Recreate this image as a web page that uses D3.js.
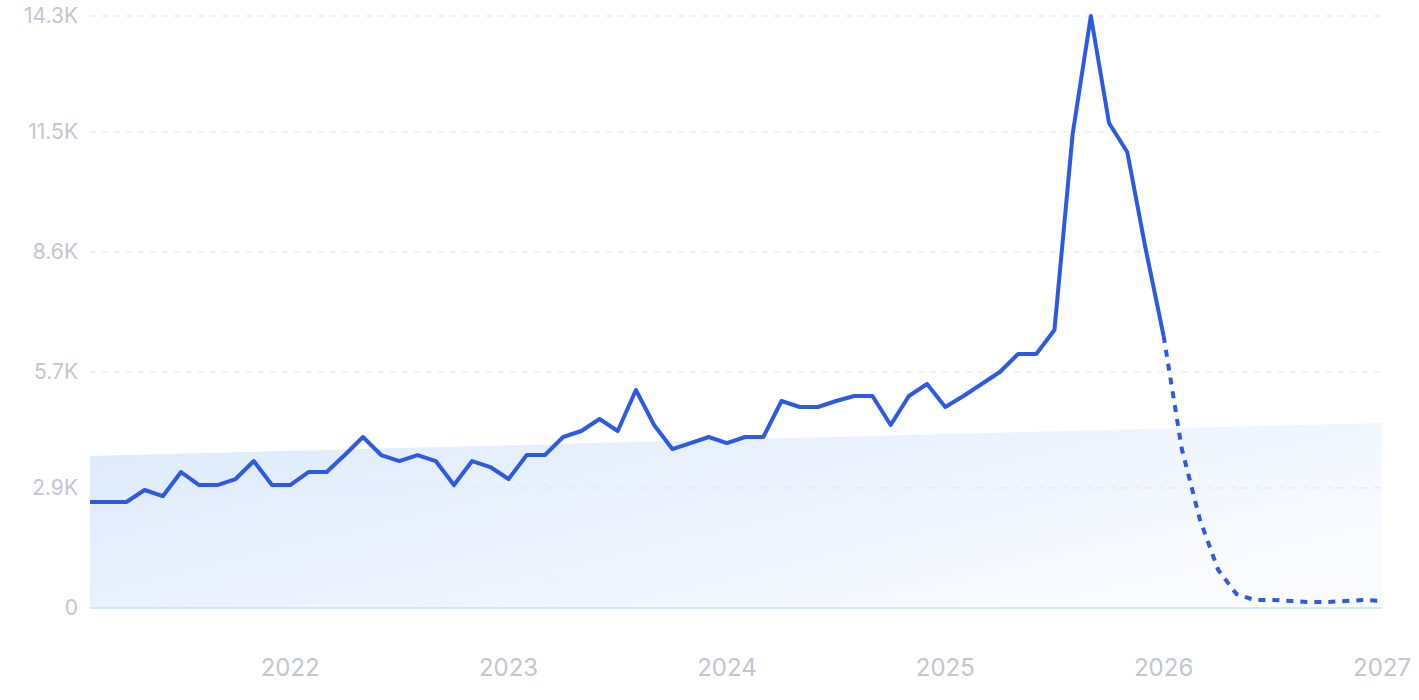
<!DOCTYPE html>
<html><head><meta charset="utf-8">
<script src="https://cdn.jsdelivr.net/npm/d3@7"></script>
<style>body{margin:0;background:#fff}text{font-family:Inter,"Noto Sans",sans-serif}</style>
</head><body>
<svg id="chart" width="1419" height="700"></svg>
<script>
var actual = [2560,2560,2560,2850,2700,3285,2970,2970,3115,3550,2970,2970,3285,3285,3695,4130,3695,3550,3695,3550,2970,3550,3405,3115,3695,3695,4130,4275,4565,4275,5265,4420,3840,3985,4130,3985,4130,4130,5000,4855,4855,5000,5120,5120,4420,5120,5410,4855,5120,5410,5700,6135,6135,6715,11450,14300,11715,11015,8700,6570];
var forecast = [6570,3840,2125,918,338,193,193,170,145,145,170,193,170];
var trend = [3670,4470];
var yTicks = [0,2900,5700,8600,11500,14300];
var yLabels = ["0","2.9K","5.7K","8.6K","11.5K","14.3K"];
var xTickPos = [11,23,35,47,59,71];
var xLabels = ["2022","2023","2024","2025","2026","2027"];

var margin = {left: 90, right: 37, top: 16, bottom: 92};
var svg = d3.select('#chart');
var width = 1419 - margin.left - margin.right;
var height = 700 - margin.top - margin.bottom;
var g = svg.append("g").attr("transform", "translate(" + margin.left + "," + margin.top + ")");
var x = d3.scaleLinear().domain([0, 71]).range([0, width]);
var y = d3.scaleLinear().domain([0, 14300]).range([height, 0]);

var defs = svg.append("defs");
var grad = defs.append("linearGradient").attr("id", "tg").attr("x1", "0").attr("y1", "0").attr("x2", "1").attr("y2", "0.6");
grad.append("stop").attr("offset", "0").attr("stop-color", "#dce9fb");
grad.append("stop").attr("offset", "1").attr("stop-color", "#f9fbff");

g.append("path").attr("d", d3.area().x(function(d, i) { return x(i * 71); }).y0(y(0)).y1(function(d) { return y(d); })(trend))
    .attr("fill", "url(#tg)");

yTicks.forEach(function(t, i) {
    if (i > 0) g.append("line").attr("x1", 0).attr("x2", width).attr("y1", y(t)).attr("y2", y(t))
        .attr("stroke", "#dfe3f3").attr("stroke-dasharray", "6,6");
    svg.append("text").attr("x", 78).attr("y", margin.top + y(t) + 7).attr("text-anchor", "end")
        .attr("font-size", 21).attr("fill", "#c3c5d0").text(yLabels[i]);
});
g.append("line").attr("x1", 0).attr("x2", width).attr("y1", y(0)).attr("y2", y(0)).attr("stroke", "#c9e0fb").attr("stroke-width", 1.5);

xTickPos.forEach(function(p, i) {
    g.append("text").attr("x", x(p)).attr("y", height + 68).attr("text-anchor", "middle")
        .attr("font-size", 24).attr("fill", "#c3c5d0").text(xLabels[i]);
});

var line = d3.line().x(function(d) { return x(d[0]); }).y(function(d) { return y(d[1]); });
g.append("path").attr("d", line(actual.map(function(v, i) { return [i, v]; })))
    .attr("fill", "none").attr("stroke", "#2d5ae2").attr("stroke-width", 4).attr("stroke-linejoin", "round");
g.append("path").attr("d", line(forecast.map(function(v, i) { return [i + 59, v]; })))
    .attr("fill", "none").attr("stroke", "#2d5ae2").attr("stroke-width", 4).attr("stroke-dasharray", "7,7");
</script>
</body></html>
